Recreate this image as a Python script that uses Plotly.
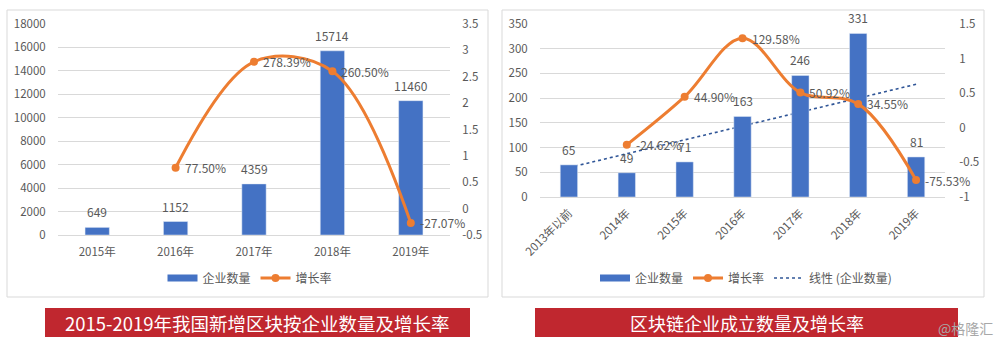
import numpy as np
import plotly.graph_objects as go

# ---------------- data ----------------
left_years = ["2015年", "2016年", "2017年", "2018年", "2019年"]
left_counts = [649, 1152, 4359, 15714, 11460]
left_growth_years = ["2016年", "2017年", "2018年", "2019年"]
left_growth = [0.7750, 2.7839, 2.6050, -0.2707]
left_y1_ticks = [0, 2000, 4000, 6000, 8000, 10000, 12000, 14000, 16000, 18000]
left_y1_text = ["0", "2000", "4000", "6000", "8000", "10000", "12000", "14000", "16000", "18000"]
left_y2_ticks = [-0.5, 0, 0.5, 1, 1.5, 2, 2.5, 3, 3.5]
left_y2_text = ["-0.5", "0", "0.5", "1", "1.5", "2", "2.5", "3", "3.5"]

right_years = ["2013年以前", "2014年", "2015年", "2016年", "2017年", "2018年", "2019年"]
right_counts = [65, 49, 71, 163, 246, 331, 81]
right_growth_years = ["2014年", "2015年", "2016年", "2017年", "2018年", "2019年"]
right_growth = [-0.2462, 0.4490, 1.2958, 0.5092, 0.3455, -0.7553]
right_y1_ticks = [0, 50, 100, 150, 200, 250, 300, 350]
right_y2_ticks = [-1, -0.5, 0, 0.5, 1, 1.5]
right_y2_text = ["-1", "-0.5", "0", "0.5", "1", "1.5"]

left_title = "2015-2019年我国新增区块按企业数量及增长率"
right_title = "区块链企业成立数量及增长率"
watermark = "@格隆汇"

# ---------------- styling ----------------
W, H = 999, 343
BLUE = "#4472C4"
ORANGE = "#ED7D31"
TREND = "#2F5597"
GRID = "#d9d9d9"
TXT = "#595959"
RED = "#C0272F"
FONT = "Noto Sans CJK SC"


def px(x):
    return x / W


def py(y):
    return 1 - y / H


def pct(v):
    return f"{v * 100:.2f}%"


fig = go.Figure()
annotations = []


def bar_labels(xs, ys, xref, yref):
    for x, y in zip(xs, ys):
        annotations.append(dict(
            text=str(y), x=x, y=y, xref=xref, yref=yref, showarrow=False,
            xanchor="center", yanchor="bottom", yshift=5,
            font=dict(size=12, color=TXT, family=FONT)))


def line_labels(xs, ys, xref, yref):
    for x, y in zip(xs, ys):
        annotations.append(dict(
            text=pct(y), x=x, y=y, xref=xref, yref=yref, showarrow=False,
            xanchor="left", yanchor="middle", xshift=7,
            font=dict(size=12, color=TXT, family=FONT)))


# ---- left chart ----
fig.add_trace(go.Bar(
    x=left_years, y=left_counts, xaxis="x", yaxis="y",
    marker_color=BLUE, width=0.31, showlegend=False,
))
fig.add_trace(go.Scatter(
    x=left_growth_years, y=left_growth, xaxis="x", yaxis="y2",
    mode="lines+markers", line=dict(color=ORANGE, width=3, shape="spline", smoothing=1),
    marker=dict(size=8, color=ORANGE), showlegend=False,
))
bar_labels(left_years, left_counts, "x", "y")
line_labels(left_growth_years, left_growth, "x", "y2")

# ---- right chart ----
xs = np.arange(len(right_counts))
slope, intercept = np.polyfit(xs, right_counts, 1)
trend = (slope * xs + intercept).tolist()
fig.add_trace(go.Scatter(
    x=right_years, y=trend, xaxis="x2", yaxis="y3", mode="lines",
    line=dict(color=TREND, width=1.6, dash="dot"), showlegend=False,
))
fig.add_trace(go.Bar(
    x=right_years, y=right_counts, xaxis="x2", yaxis="y4",
    marker_color=BLUE, width=0.30, showlegend=False,
))
fig.add_trace(go.Scatter(
    x=right_growth_years, y=right_growth, xaxis="x2", yaxis="y5",
    mode="lines+markers", line=dict(color=ORANGE, width=3, shape="spline", smoothing=1),
    marker=dict(size=8, color=ORANGE), showlegend=False,
))
bar_labels(right_years, right_counts, "x2", "y3")
line_labels(right_growth_years, right_growth, "x2", "y5")


# ---- legend-only entries ----
def legend_entry(name, legend, line, mode="lines", marker=None):
    fig.add_trace(go.Scatter(
        x=[None], y=[None], xaxis="x", yaxis="y", name=name, mode=mode,
        line=line, marker=marker, legend=legend, showlegend=True,
    ))


legend_entry("企业数量", "legend", dict(color=BLUE, width=7))
legend_entry("增长率", "legend", dict(color=ORANGE, width=3), "lines+markers", dict(size=8, color=ORANGE))
legend_entry("企业数量", "legend2", dict(color=BLUE, width=7))
legend_entry("增长率", "legend2", dict(color=ORANGE, width=3), "lines+markers", dict(size=8, color=ORANGE))
legend_entry("线性 (企业数量)", "legend2", dict(color=TREND, width=1.6, dash="dot"))

axis_font = dict(size=11.5, color=TXT)
ydomL = [py(235), py(24)]
ydomR = [py(197), py(24)]
hidden = "rgba(0,0,0,0)"

fig.update_layout(
    width=W, height=H, margin=dict(l=0, r=0, t=0, b=0, autoexpand=False),
    paper_bgcolor="white", plot_bgcolor="rgba(0,0,0,0)",
    font=dict(family=FONT, color=TXT),
    xaxis=dict(domain=[px(58), px(450)], anchor="y", tickfont=axis_font, automargin=False,
               showgrid=False, showline=True, linecolor=GRID, linewidth=1,
               ticks="outside", ticklen=6, tickcolor=hidden, range=[-0.5, 4.5]),
    yaxis=dict(domain=ydomL, anchor="x", range=[0, 18000], tickvals=left_y1_ticks,
               ticktext=left_y1_text, tickfont=axis_font, showgrid=True, automargin=False,
               gridcolor=GRID, gridwidth=1, zeroline=False,
               ticks="outside", ticklen=9, tickcolor=hidden),
    yaxis2=dict(overlaying="y", side="right", anchor="x", range=[-0.5, 3.5],
                tickvals=left_y2_ticks, ticktext=left_y2_text, tickfont=axis_font,
                showgrid=False, zeroline=False, ticks="outside", ticklen=9,
                tickcolor=hidden, automargin=False),
    xaxis2=dict(domain=[px(540), px(945)], anchor="y3", tickfont=axis_font,
                showgrid=False, showline=True, linecolor=GRID, linewidth=1,
                tickangle=-45, ticks="outside", ticklen=4, tickcolor=hidden,
                range=[-0.5, 6.5], automargin=False),
    yaxis3=dict(domain=ydomR, anchor="x2", range=[0, 350], tickvals=right_y1_ticks,
                tickfont=axis_font, showgrid=True, gridcolor=GRID, gridwidth=1,
                zeroline=False, ticks="outside", ticklen=9, tickcolor=hidden,
                automargin=False),
    yaxis4=dict(overlaying="y3", anchor="x2", range=[0, 350], visible=False,
                showgrid=False, zeroline=False),
    yaxis5=dict(overlaying="y3", side="right", anchor="x2", range=[-1, 1.5],
                tickvals=right_y2_ticks, ticktext=right_y2_text, tickfont=axis_font,
                showgrid=False, zeroline=False, ticks="outside", ticklen=11,
                tickcolor=hidden, automargin=False),
    legend=dict(orientation="h", x=px(250), y=py(278), xanchor="center", yanchor="middle",
                bgcolor="rgba(0,0,0,0)", font=dict(size=12, color=TXT), itemwidth=30),
    legend2=dict(orientation="h", x=px(746), y=py(278), xanchor="center", yanchor="middle",
                 bgcolor="rgba(0,0,0,0)", font=dict(size=12, color=TXT), itemwidth=30),
    shapes=[
        dict(type="rect", xref="paper", yref="paper", x0=px(7), x1=px(488), y0=py(297), y1=py(10),
             line=dict(color=GRID, width=1), fillcolor="rgba(0,0,0,0)", layer="below"),
        dict(type="rect", xref="paper", yref="paper", x0=px(502), x1=px(984), y0=py(297), y1=py(10),
             line=dict(color=GRID, width=1), fillcolor="rgba(0,0,0,0)", layer="below"),
        dict(type="rect", xref="paper", yref="paper", x0=px(45), x1=px(470), y0=py(337), y1=py(308),
             line=dict(width=0), fillcolor=RED),
        dict(type="rect", xref="paper", yref="paper", x0=px(535), x1=px(958), y0=py(337), y1=py(308),
             line=dict(width=0), fillcolor=RED),
    ],
)

annotations += [
    dict(text=left_title, xref="paper", yref="paper", x=px(257), y=py(322.5),
         xanchor="center", yanchor="middle", showarrow=False,
         font=dict(size=18.5, color="white", family=FONT)),
    dict(text=right_title, xref="paper", yref="paper", x=px(746.5), y=py(322.5),
         xanchor="center", yanchor="middle", showarrow=False,
         font=dict(size=18, color="white", family=FONT)),
    dict(text=watermark, xref="paper", yref="paper", x=px(965), y=py(328),
         xanchor="center", yanchor="middle", showarrow=False,
         font=dict(size=14, color="#a8a8a8", family=FONT)),
]
fig.update_layout(annotations=annotations)

fig.write_html("out.html")
